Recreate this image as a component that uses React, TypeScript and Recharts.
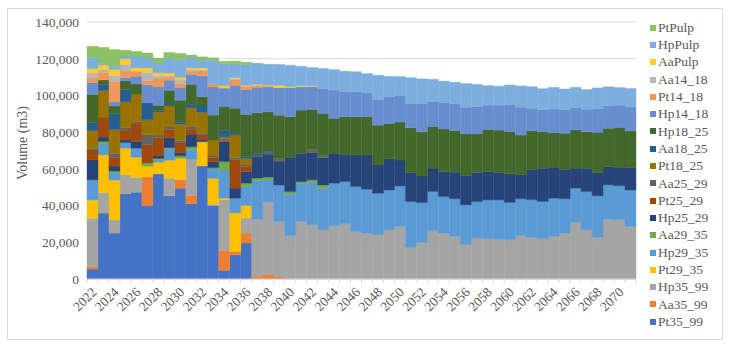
import { BarChart, Bar, XAxis, YAxis, CartesianGrid, Legend } from "recharts";

const FONT = "Liberation Serif, DejaVu Serif, serif";

const years = [
  "2022", "2023", "2024", "2025", "2026", "2027", "2028", "2029", "2030", "2031",
  "2032", "2033", "2034", "2035", "2036", "2037", "2038", "2039", "2040", "2041",
  "2042", "2043", "2044", "2045", "2046", "2047", "2048", "2049", "2050", "2051",
  "2052", "2053", "2054", "2055", "2056", "2057", "2058", "2059", "2060", "2061",
  "2062", "2063", "2064", "2065", "2066", "2067", "2068", "2069", "2070", "2071",
];

const yTicks = [0, 20000, 40000, 60000, 80000, 100000, 120000, 140000];

// stack order, bottom -> top
const Pt35_99 = [
  5400, 35900, 25000, 46400, 47300, 40000, 57300, 45300, 49500, 41000,
  61600, 40000, 4700, 13200, 19600, 0, 0, 0, 0, 0,
  0, 0, 0, 0, 0, 0, 0, 0, 0, 0,
  0, 0, 0, 0, 0, 0, 0, 0, 0, 0,
  0, 0, 0, 0, 0, 0, 0, 0, 0, 0,
];
const Aa35_99 = [
  1400, 0, 0, 0, 0, 15600, 0, 0, 4500, 4400,
  0, 0, 10900, 1800, 5400, 1500, 2500, 1200, 0, 0,
  0, 0, 0, 0, 0, 0, 0, 0, 0, 0,
  0, 0, 0, 0, 0, 0, 0, 0, 0, 0,
  0, 0, 0, 0, 0, 0, 0, 0, 0, 0,
];
const Hp35_99 = [
  26300, 11200, 7200, 10300, 8000, 0, 0, 9600, 0, 19900,
  0, 700, 27500, 0, 8200, 31000, 39500, 30100, 23600, 31300,
  29500, 26800, 29000, 30100, 25900, 25000, 24100, 26800, 28600, 17400,
  19900, 26300, 25000, 23200, 18700, 22300, 21900, 21700, 21400, 23600,
  22700, 21900, 23200, 25000, 31000, 26800, 22800, 32600, 32300, 28600,
];
const Pt29_35 = [
  10000, 20500, 21700, 14500, 11000, 5800, 6300, 9800, 11800, 0,
  13200, 14100, 900, 21000, 6900, 0, 0, 0, 0, 0,
  0, 0, 0, 0, 0, 0, 0, 0, 0, 0,
  0, 0, 0, 0, 0, 0, 0, 0, 0, 0,
  0, 0, 0, 0, 0, 0, 0, 0, 0, 0,
];
const Hp29_35 = [
  10900, 6000, 4000, 3100, 5000, 0, 1300, 6300, 0, 5400,
  0, 5100, 15400, 8000, 10300, 21000, 12000, 19900, 22600, 20800,
  23200, 22600, 23200, 23000, 24500, 23900, 22600, 21700, 22100, 24800,
  21700, 21400, 19900, 20500, 21700, 19900, 21200, 21400, 20300, 20100,
  20500, 20300, 20800, 18700, 18500, 20800, 22500, 18700, 18500, 19900,
];
const Aa29_35 = [
  0, 1300, 900, 0, 0, 1800, 700, 500, 1300, 1300,
  0, 700, 4500, 0, 1800, 1500, 1500, 0, 1400, 900,
  1300, 1800, 0, 0, 0, 0, 0, 0, 0, 0,
  0, 0, 0, 0, 0, 0, 0, 0, 0, 0,
  0, 0, 0, 0, 0, 0, 0, 0, 0, 0,
];
const Hp25_29 = [
  10900, 2400, 2700, 1400, 3600, 0, 1400, 5400, 1800, 6900,
  1300, 3300, 10900, 5500, 6300, 11500, 12500, 13000, 18700, 15400,
  14900, 14900, 16300, 14500, 17200, 18700, 15400, 17200, 14100, 15900,
  14500, 12700, 13600, 14500, 15800, 15800, 15400, 15000, 15600, 13000,
  16300, 18100, 16900, 15800, 10900, 12700, 12700, 10000, 10100, 12300,
];
const Pt25_29 = [
  5400, 10900, 4700, 5400, 10000, 10000, 10100, 4500, 5400, 2700,
  2400, 2200, 700, 15500, 2700, 0, 0, 0, 0, 0,
  0, 0, 0, 0, 0, 0, 0, 0, 0, 0,
  0, 0, 0, 0, 0, 0, 0, 0, 0, 0,
  0, 0, 0, 0, 0, 0, 0, 0, 0, 0,
];
const Aa25_29 = [
  900, 0, 2200, 1400, 900, 5400, 1300, 1400, 1100, 1600,
  900, 900, 1000, 1000, 900, 1000, 800, 1400, 0, 0,
  1800, 1100, 0, 0, 0, 0, 0, 0, 0, 0,
  0, 0, 0, 0, 0, 0, 0, 0, 0, 0,
  0, 0, 0, 0, 0, 0, 0, 0, 0, 0,
];
const Pt18_25 = [
  9600, 14500, 13000, 14000, 15000, 8200, 12500, 11500, 9000, 10100,
  11400, 8700, 900, 12500, 3600, 0, 0, 0, 0, 0,
  0, 0, 0, 0, 0, 0, 0, 0, 0, 0,
  0, 0, 0, 0, 0, 0, 0, 0, 0, 0,
  0, 0, 0, 0, 0, 0, 0, 0, 0, 0,
];
const Aa18_25 = [
  4300, 3100, 8700, 6700, 0, 9100, 1000, 1000, 1000, 1800,
  3400, 0, 3600, 1000, 900, 1000, 800, 0, 0, 0,
  0, 0, 0, 0, 0, 0, 0, 0, 0, 0,
  0, 0, 0, 0, 0, 0, 0, 0, 0, 0,
  0, 0, 0, 0, 0, 0, 0, 0, 0, 0,
];
const Hp18_25 = [
  15400, 2700, 4200, 4700, 5400, 0, 2700, 7500, 12000, 10900,
  5100, 13600, 13000, 13500, 23000, 22000, 21500, 23600, 22100, 23600,
  21700, 23000, 19000, 20800, 20800, 20800, 21700, 19000, 20700, 24300,
  24100, 22700, 23200, 22700, 22800, 21000, 23000, 23000, 23000, 21700,
  21200, 19900, 18800, 19900, 20800, 19900, 21900, 20800, 21700, 19800,
];
const Hp14_18 = [
  6500, 0, 2200, 1800, 4300, 10000, 10000, 5500, 7000, 5400,
  11400, 15300, 10000, 12500, 13600, 14000, 13500, 15000, 15900, 12700,
  12300, 13600, 15400, 13600, 13600, 13000, 14000, 14500, 14300, 13200,
  15400, 13600, 14500, 14500, 14500, 14900, 13200, 13600, 14500, 15200,
  12300, 12100, 12900, 12700, 12300, 12300, 13000, 12300, 12100, 13200,
];
const Pt14_18 = [
  2700, 4000, 10900, 3600, 2700, 2200, 4900, 1800, 2200, 1800,
  2700, 1800, 0, 3000, 1800, 1000, 500, 0, 0, 0,
  0, 0, 0, 0, 0, 0, 0, 0, 0, 0,
  0, 0, 0, 0, 0, 0, 0, 0, 0, 0,
  0, 0, 0, 0, 0, 0, 0, 0, 0, 0,
];
const Aa14_18 = [
  2500, 1400, 3600, 3600, 0, 4500, 1300, 800, 1800, 900,
  700, 0, 0, 500, 0, 0, 0, 0, 0, 0,
  0, 0, 0, 0, 0, 0, 0, 0, 0, 0,
  0, 0, 0, 0, 0, 0, 0, 0, 0, 0,
  0, 0, 0, 0, 0, 0, 0, 0, 0, 0,
];
const AaPulp = [
  2400, 2700, 3100, 3100, 1800, 2400, 1500, 1300, 1400, 900,
  900, 0, 1300, 700, 500, 500, 500, 1300, 500, 500,
  500, 0, 0, 0, 0, 0, 0, 0, 0, 0,
  0, 0, 0, 0, 0, 0, 0, 0, 0, 0,
  0, 0, 0, 0, 0, 0, 0, 0, 0, 0,
];
const HpPulp = [
  6000, 900, 1800, 1500, 6500, 5400, 5400, 8200, 9800, 5400,
  4200, 12700, 12000, 7500, 11300, 11500, 11400, 11400, 11600, 10700,
  10000, 10900, 11200, 11200, 10900, 10500, 13200, 11200, 10500, 14100,
  13400, 12100, 11600, 11800, 13000, 12100, 10700, 10300, 10900, 11600,
  11800, 11400, 11800, 11400, 10900, 10700, 11200, 10300, 9600, 10000,
];
const PtPulp = [
  6200, 8700, 9100, 3100, 2500, 2700, 2700, 3000, 3300, 1600,
  1800, 1400, 1300, 1500, 1300, 0, 0, 0, 0, 0,
  0, 0, 0, 0, 0, 0, 0, 0, 0, 0,
  0, 0, 0, 0, 0, 0, 0, 0, 0, 0,
  0, 0, 0, 0, 0, 0, 0, 0, 0, 0,
];

const SERIES = [
  { key: "Pt35_99", values: Pt35_99, color: "#4472C4" },
  { key: "Aa35_99", values: Aa35_99, color: "#ED7D31" },
  { key: "Hp35_99", values: Hp35_99, color: "#A5A5A5" },
  { key: "Pt29_35", values: Pt29_35, color: "#FFC000" },
  { key: "Hp29_35", values: Hp29_35, color: "#5B9BD5" },
  { key: "Aa29_35", values: Aa29_35, color: "#70AD47" },
  { key: "Hp25_29", values: Hp25_29, color: "#264478" },
  { key: "Pt25_29", values: Pt25_29, color: "#9E480E" },
  { key: "Aa25_29", values: Aa25_29, color: "#636363" },
  { key: "Pt18_25", values: Pt18_25, color: "#997300" },
  { key: "Aa18_25", values: Aa18_25, color: "#255E91" },
  { key: "Hp18_25", values: Hp18_25, color: "#43682B" },
  { key: "Hp14_18", values: Hp14_18, color: "#698ED0" },
  { key: "Pt14_18", values: Pt14_18, color: "#F1975A" },
  { key: "Aa14_18", values: Aa14_18, color: "#B7B7B7" },
  { key: "AaPulp", values: AaPulp, color: "#FFCD33" },
  { key: "HpPulp", values: HpPulp, color: "#7CAFDD" },
  { key: "PtPulp", values: PtPulp, color: "#8CC168" },
];

const data = years.map((year, i) => {
  const row: Record<string, string | number> = { year };
  SERIES.forEach((s) => {
    row[s.key] = s.values[i];
  });
  return row;
});

const fmt = (v: number) => v.toLocaleString("en-US");

// every category gets a small tick at its left edge; only every other year is labelled
function YearTick({ x, y, payload, index }: any) {
  const half = payload.offset || 5.49;
  const tx = x + 5;
  const ty = y + 14;
  return (
    <g>
      <line x1={x - half} y1={y} x2={x - half} y2={y + 4} stroke="#d9d9d9" />
      {index === years.length - 1 && (
        <line x1={x + half} y1={y} x2={x + half} y2={y + 4} stroke="#d9d9d9" />
      )}
      {index % 2 === 0 && (
        <text
          x={tx}
          y={ty}
          transform={`rotate(-45 ${tx} ${ty})`}
          textAnchor="end"
          fill="#595959"
          style={{ fontFamily: FONT, fontSize: 13.5 }}
        >
          {payload.value}
        </text>
      )}
    </g>
  );
}

// legend lists the series top of stack first, like the stack itself
function LegendList() {
  const items = [...SERIES].reverse();
  return (
    <div style={{ fontFamily: FONT, fontSize: 13.5, color: "#595959", lineHeight: 1 }}>
      {items.map((s) => (
        <div
          key={s.key}
          style={{ display: "flex", alignItems: "center", height: 17.3, whiteSpace: "nowrap" }}
        >
          <span
            style={{ display: "inline-block", width: 6, height: 6, background: s.color, marginRight: 2 }}
          />
          {s.key}
        </div>
      ))}
    </div>
  );
}

export default function App() {
  return (
    <div style={{ position: "absolute", left: 0, top: 0, width: 737, height: 348, background: "#fff" }}>
      <div
        style={{
          position: "absolute",
          left: 7,
          top: 8,
          width: 714,
          height: 330,
          border: "1px solid #d9d9d9",
        }}
      />
      <BarChart
        width={737}
        height={348}
        data={data}
        barCategoryGap={0}
        barGap={0}
        margin={{ top: 22, right: 21, bottom: 9, left: 0 }}
        style={{ position: "absolute", left: 0, top: 0 }}
      >
        <CartesianGrid vertical={false} stroke="#d9d9d9" />
        <XAxis
          dataKey="year"
          interval={0}
          height={60}
          tickLine={false}
          tickSize={0}
          tickMargin={0}
          axisLine={{ stroke: "#d9d9d9" }}
          tick={<YearTick />}
        />
        <YAxis
          width={87}
          domain={[0, 140000]}
          ticks={yTicks}
          tickFormatter={fmt}
          axisLine={false}
          tickLine={false}
          tick={{ fill: "#595959", fontSize: 13.5, style: { fontFamily: FONT } }}
          label={{
            content: () => (
              <text
                x={22}
                y={143}
                transform="rotate(-90 22 143)"
                textAnchor="middle"
                dominantBaseline="central"
                fill="#595959"
                style={{ fontFamily: FONT, fontSize: 14 }}
              >
                Volume (m3)
              </text>
            ),
          }}
        />
        <Legend
          layout="vertical"
          align="right"
          verticalAlign="top"
          width={80}
          wrapperStyle={{ left: 650, top: 19, width: 80 }}
          content={<LegendList />}
        />
        {SERIES.map((s) => (
          <Bar
            key={s.key}
            dataKey={s.key}
            name={s.key}
            stackId="v"
            fill={s.color}
            stroke={s.color}
            strokeWidth={0.4}
            isAnimationActive={false}
          />
        ))}
      </BarChart>
    </div>
  );
}
